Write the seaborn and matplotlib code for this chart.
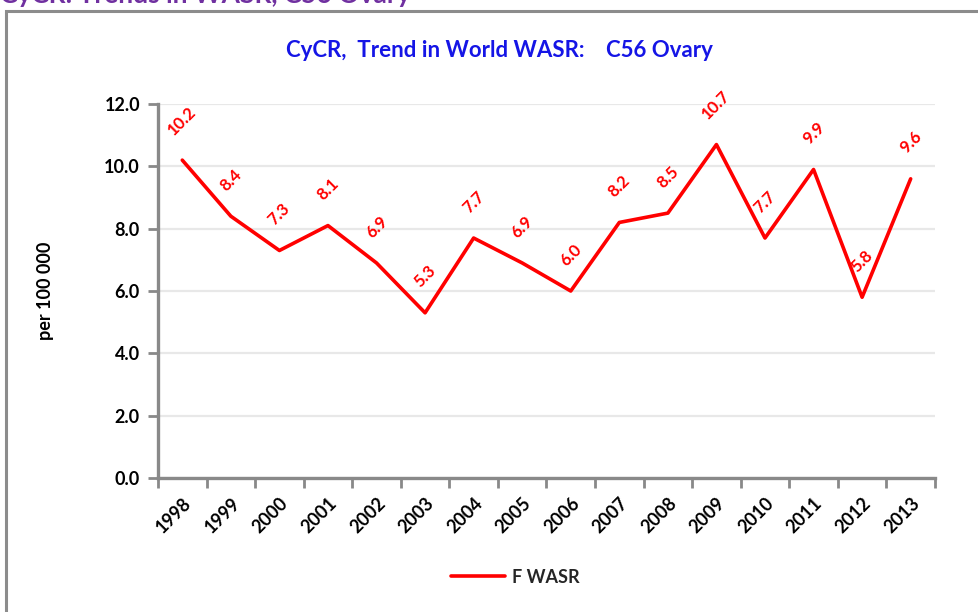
import matplotlib
matplotlib.use("Agg")
import matplotlib.pyplot as plt
from matplotlib.patches import Rectangle
from matplotlib.ticker import FixedLocator
import seaborn as sb
import pandas as pd

# data
years = ["1998", "1999", "2000", "2001", "2002", "2003", "2004", "2005",
         "2006", "2007", "2008", "2009", "2010", "2011", "2012", "2013"]
f_wasr = [10.2, 8.4, 7.3, 8.1, 6.9, 5.3, 7.7, 6.9,
          6.0, 8.2, 8.5, 10.7, 7.7, 9.9, 5.8, 9.6]
y_ticks = [0, 2, 4, 6, 8, 10, 12]

page_title = "CyCR: Trends in WASR, C56 Ovary"
chart_title = "CyCR,  Trend in World WASR:    C56 Ovary"
series_name = "F WASR"
ylabel = "per 100 000"

sb.set_theme(style="white")
plt.rcParams["font.family"] = ["Lato", "DejaVu Sans"]

df = pd.DataFrame({"year": years, series_name: f_wasr})
df["pos"] = range(len(years))

fig = plt.figure(figsize=(9.79, 6.12), dpi=100)
ax = fig.add_axes([0.1614, 0.219, 0.7936, 0.611])

sb.lineplot(data=df, x="pos", y=series_name, ax=ax, color="#FF0000",
            linewidth=2.6, label=series_name)

# data labels
for i, v in enumerate(f_wasr):
    ax.annotate(f"{v:.1f}", (i, v), xytext=(0, 16), textcoords="offset points",
                rotation=45, ha="center", va="bottom", color="#FF0000",
                fontsize=12, fontweight="bold", annotation_clip=False)

ax.set_xlim(-0.5, len(years) - 0.5)
ax.set_ylim(0, 12)
ax.set_yticks(y_ticks)
ax.set_yticklabels([f"{t:.1f}" for t in y_ticks], fontsize=13, fontweight="bold", color="black")
ax.set_xticks(df["pos"])
ax.set_xticklabels(years, rotation=45, ha="right", rotation_mode="anchor",
                   fontsize=13, fontweight="bold", color="black")
ax.xaxis.set_minor_locator(FixedLocator([p - 0.5 for p in range(len(years) + 1)]))
ax.tick_params(axis="x", which="major", length=0, pad=12)
ax.tick_params(axis="x", which="minor", length=7, width=2, color="#898989", direction="out", bottom=True)
ax.tick_params(axis="y", length=7, width=2, color="#898989", direction="out", left=True, pad=6)

ax.grid(axis="y", color="#E8E8E8", linewidth=1.6)
ax.set_axisbelow(True)
for side in ["top", "right"]:
    ax.spines[side].set_visible(False)
for side in ["left", "bottom"]:
    ax.spines[side].set_color("#898989")
    ax.spines[side].set_linewidth(2.4)

ax.set_xlabel("")
ax.set_ylabel(ylabel, fontsize=13, fontweight="bold", color="black", labelpad=36)

leg = ax.legend(loc="center", bbox_to_anchor=(0.46, -0.265), frameon=False,
                handlelength=3.0, handletextpad=0.4,
                prop={"weight": "bold", "size": 13})

ax.set_title(chart_title, color="#1515E6", fontsize=16, fontweight="bold", pad=34, x=0.44)

# grey frame round the chart and the page title above it
fig.patches.append(Rectangle((6 / 979, -0.05), 1.2, (612 - 11) / 612 + 0.05,
                             transform=fig.transFigure, fill=False,
                             edgecolor="#8C8C8C", linewidth=2.2))
fig.text(0.0, 1 - 3 / 612, page_title, color="#7030A0", fontsize=19,
         fontweight="bold", ha="left", va="baseline")

fig.savefig("out.png", dpi=100)
